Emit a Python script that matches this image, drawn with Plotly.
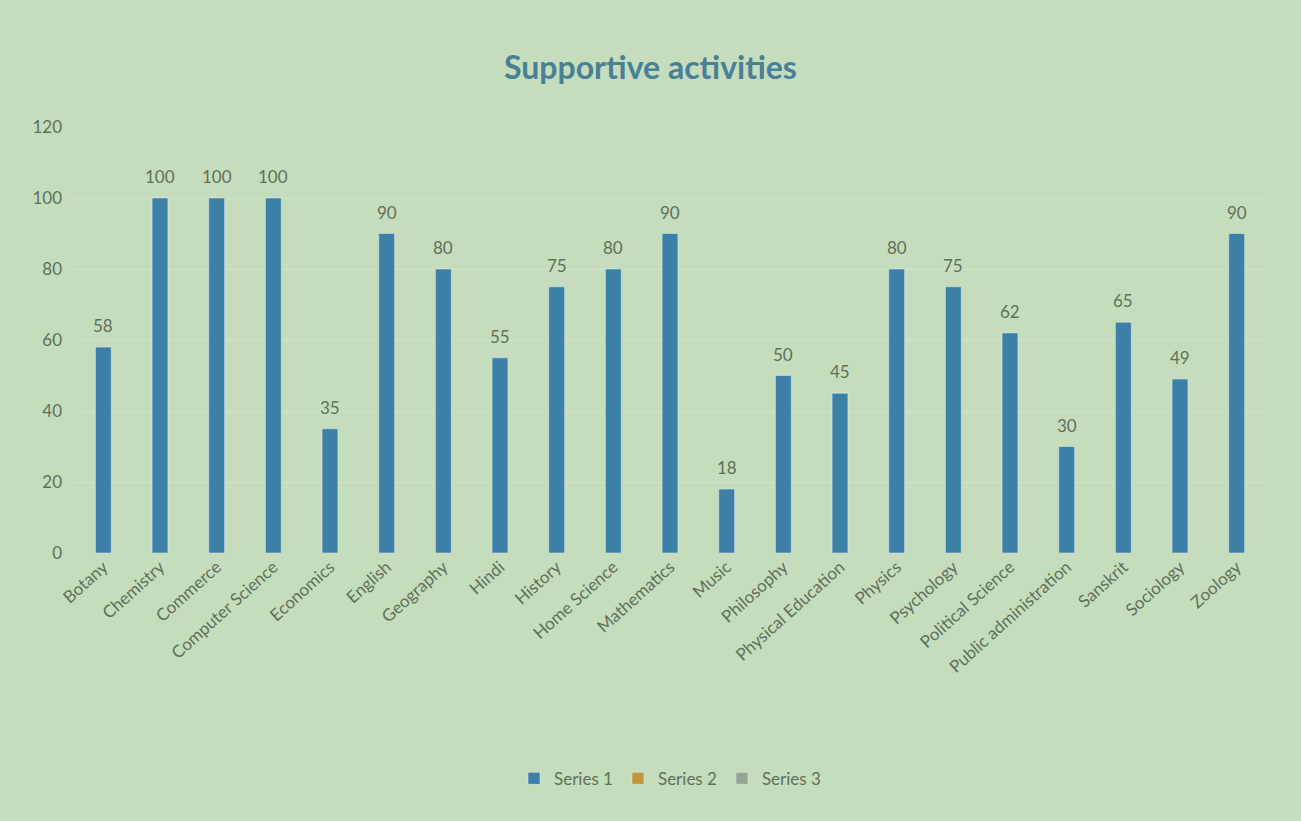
import plotly.graph_objects as go

categories = ["Botany", "Chemistry", "Commerce", "Computer Science", "Economics", "English",
              "Geography", "Hindi", "History", "Home Science", "Mathematics", "Music",
              "Philosophy", "Physical Education", "Physics", "Psychology", "Political Science",
              "Public administration", "Sanskrit", "Sociology", "Zoology"]
series1 = [58, 100, 100, 100, 35, 90, 80, 55, 75, 80, 90, 18, 50, 45, 80, 75, 62, 30, 65, 49, 90]
series2 = [None] * len(categories)
series3 = [None] * len(categories)

bg = "rgb(198,221,189)"
txt = "rgb(96,112,88)"

fig = go.Figure()
fig.add_trace(go.Bar(x=categories, y=series1, name="Series 1", width=0.28,
                     marker_color="rgb(60,128,168)"))
fig.add_trace(go.Bar(x=categories, y=series2, name="Series 2", marker_color="rgb(196,150,60)"))
fig.add_trace(go.Bar(x=categories, y=series3, name="Series 3", marker_color="rgb(150,165,145)"))

for c, v in zip(categories, series1):
    fig.add_annotation(x=c, y=v, text=str(v), showarrow=False, yanchor="bottom", yshift=9,
                       font=dict(size=17, color=txt, family="Lato"))

fig.update_layout(
    width=1301, height=821,
    paper_bgcolor=bg, plot_bgcolor=bg,
    barmode="overlay",
    title=dict(text="<b>Supportive activities</b>", x=0.5, xanchor="center", y=0.918, yanchor="middle",
               font=dict(size=32, color="rgb(72,128,150)", family="Lato")),
    margin=dict(l=75, r=36, t=127, b=268),
    font=dict(family="Lato", color=txt, size=16),
    legend=dict(orientation="h", x=0.5, xanchor="center", y=-0.53, yanchor="middle",
                font=dict(size=17, color=txt), itemwidth=30),
    showlegend=True,
)
fig.update_yaxes(range=[0, 120], dtick=20, showgrid=True, gridcolor="rgb(208,228,200)",
                 zeroline=False, showline=False, tickfont=dict(size=17, color=txt), ticks="",
                 ticklabelstandoff=12)
fig.update_xaxes(tickangle=-42, tickfont=dict(size=17, color=txt), showline=False, ticks="",
                 showgrid=False)

fig.write_html("out.html", config={"displayModeBar": False},
               post_script="document.body.style.margin='0';document.body.style.background='rgb(198,221,189)';")
